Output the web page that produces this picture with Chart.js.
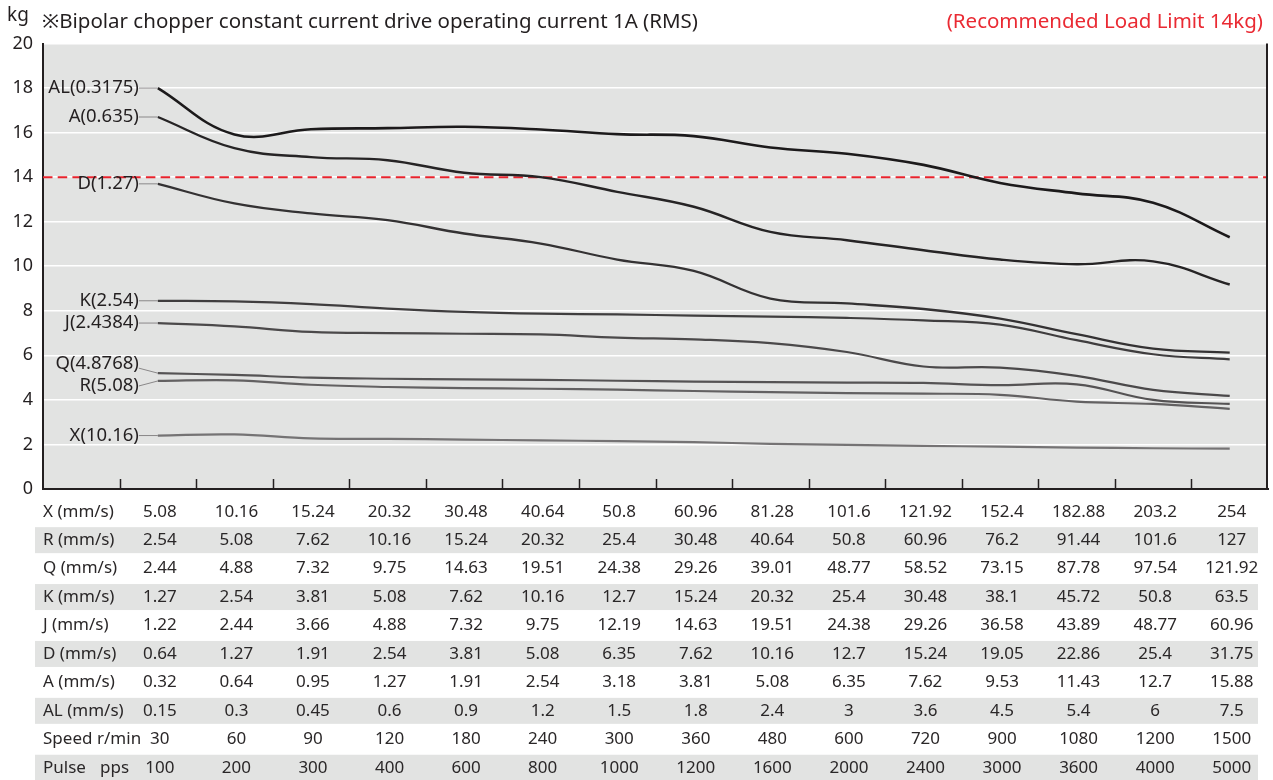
<!DOCTYPE html>
<html>
<head>
<meta charset="utf-8">
<script src="https://cdn.jsdelivr.net/npm/chart.js@4.4.1/dist/chart.umd.min.js"></script>
<style>
  html, body { margin: 0; padding: 0; background: #fff; }
  #wrap { width: 1273px; height: 780px; }
</style>
</head>
<body>
<div id="wrap"><canvas id="loadChart" width="1273" height="780"></canvas></div>
<script>
// curve values in kg, one per speed column
let AL = [18.0, 15.92, 16.15, 16.2, 16.26, 16.14, 15.93, 15.84, 15.33, 15.05, 14.55, 13.74, 13.27, 12.85, 11.3]
let A = [16.7, 15.3, 14.9, 14.76, 14.2, 14.0, 13.34, 12.67, 11.54, 11.17, 10.72, 10.3, 10.09, 10.22, 9.18]
let D = [13.7, 12.82, 12.37, 12.07, 11.47, 11.02, 10.3, 9.79, 8.55, 8.33, 8.08, 7.65, 6.95, 6.3, 6.12]
let K = [8.45, 8.42, 8.3, 8.1, 7.95, 7.87, 7.84, 7.78, 7.74, 7.68, 7.57, 7.38, 6.68, 6.05, 5.82]
let J = [7.45, 7.3, 7.05, 7.0, 6.97, 6.94, 6.8, 6.72, 6.55, 6.15, 5.5, 5.45, 5.08, 4.45, 4.18]
let Q = [5.2, 5.12, 5.0, 4.95, 4.92, 4.9, 4.86, 4.82, 4.8, 4.78, 4.76, 4.66, 4.7, 4.0, 3.82]
let R = [4.85, 4.88, 4.68, 4.58, 4.53, 4.5, 4.46, 4.4, 4.35, 4.3, 4.28, 4.23, 3.92, 3.82, 3.6]
let X = [2.4, 2.45, 2.27, 2.25, 2.22, 2.18, 2.15, 2.1, 2.03, 1.98, 1.94, 1.9, 1.86, 1.83, 1.81]

let seriesNames = ['AL(0.3175)', 'A(0.635)', 'D(1.27)', 'K(2.54)', 'J(2.4384)', 'Q(4.8768)', 'R(5.08)', 'X(10.16)']
let loadLimit = 14
let yTicks = [0, 2, 4, 6, 8, 10, 12, 14, 16, 18, 20]

// table under the chart
let rowNames = ['X (mm/s)', 'R (mm/s)', 'Q (mm/s)', 'K (mm/s)', 'J (mm/s)', 'D (mm/s)', 'A (mm/s)', 'AL (mm/s)', 'Speed', 'Pulse']
let rowUnits = ['', '', '', '', '', '', '', '', 'r/min', 'pps']
let xRow = ['5.08', '10.16', '15.24', '20.32', '30.48', '40.64', '50.8', '60.96', '81.28', '101.6', '121.92', '152.4', '182.88', '203.2', '254']
let rRow = ['2.54', '5.08', '7.62', '10.16', '15.24', '20.32', '25.4', '30.48', '40.64', '50.8', '60.96', '76.2', '91.44', '101.6', '127']
let qRow = ['2.44', '4.88', '7.32', '9.75', '14.63', '19.51', '24.38', '29.26', '39.01', '48.77', '58.52', '73.15', '87.78', '97.54', '121.92']
let kRow = ['1.27', '2.54', '3.81', '5.08', '7.62', '10.16', '12.7', '15.24', '20.32', '25.4', '30.48', '38.1', '45.72', '50.8', '63.5']
let jRow = ['1.22', '2.44', '3.66', '4.88', '7.32', '9.75', '12.19', '14.63', '19.51', '24.38', '29.26', '36.58', '43.89', '48.77', '60.96']
let dRow = ['0.64', '1.27', '1.91', '2.54', '3.81', '5.08', '6.35', '7.62', '10.16', '12.7', '15.24', '19.05', '22.86', '25.4', '31.75']
let aRow = ['0.32', '0.64', '0.95', '1.27', '1.91', '2.54', '3.18', '3.81', '5.08', '6.35', '7.62', '9.53', '11.43', '12.7', '15.88']
let alRow = ['0.15', '0.3', '0.45', '0.6', '0.9', '1.2', '1.5', '1.8', '2.4', '3', '3.6', '4.5', '5.4', '6', '7.5']
let speedRow = ['30', '60', '90', '120', '180', '240', '300', '360', '480', '600', '720', '900', '1080', '1200', '1500']
let pulseRow = ['100', '200', '300', '400', '600', '800', '1000', '1200', '1600', '2000', '2400', '3000', '3600', '4000', '5000']

let tableRows = [xRow, rRow, qRow, kRow, jRow, dRow, aRow, alRow, speedRow, pulseRow]
let allSeries = [AL, A, D, K, J, Q, R, X]

// styles
let lineColors = ['#1c1a1b', '#262425', '#343233', '#3f3d3e', '#4b494a', '#555354', '#636162', '#757374']
let lineWidths = [2.6, 2.4, 2.3, 2.2, 2.2, 2.2, 2.2, 2.2]
let labelDy = [0, 0, 0, 0, 0, -9, 5, 0]
let FONT = '"Noto Sans", "Open Sans", sans-serif'
let INK = '#231f20'
let PANEL = '#e2e3e2'

function toPoints(arr) {
  return arr.map((v, i) => ({ x: i, y: v }))
}

let datasets = allSeries.map((s, i) => ({
  label: seriesNames[i],
  data: toPoints(s),
  borderColor: lineColors[i],
  borderWidth: lineWidths[i],
  pointRadius: 0,
  tension: 0.4,
  fill: false
}))
datasets.push({
  label: 'limit',
  data: [{ x: -1.5, y: loadLimit }, { x: 14.5, y: loadLimit }],
  borderColor: '#e8232d',
  borderWidth: 2,
  borderDash: [9.5, 5.2],
  pointRadius: 0,
  tension: 0
})

let chartDecor = {
  id: 'chartDecor',
  beforeDraw(chart) {
    let { ctx, chartArea } = chart
    ctx.save()
    ctx.fillStyle = PANEL
    ctx.fillRect(chartArea.left, chartArea.top, chartArea.right - chartArea.left, chartArea.bottom - chartArea.top)
    ctx.restore()
  },
  afterDraw(chart) {
    let { ctx, chartArea } = chart
    let xs = chart.scales.x
    ctx.save()

    // right border
    ctx.strokeStyle = INK
    ctx.lineWidth = 2
    ctx.beginPath()
    ctx.moveTo(chartArea.right - 1, chartArea.top)
    ctx.lineTo(chartArea.right - 1, chartArea.bottom)
    ctx.stroke()

    // inner ticks between columns
    ctx.lineWidth = 1.5
    for (let i = 0; i < 15; i++) {
      let px = Math.round(xs.getPixelForValue(i - 0.5)) + 0.5
      ctx.beginPath()
      ctx.moveTo(px, chartArea.bottom - 10)
      ctx.lineTo(px, chartArea.bottom)
      ctx.stroke()
    }

    // series labels on the left with leader lines
    ctx.font = '18.5px ' + FONT
    ctx.textAlign = 'right'
    ctx.textBaseline = 'middle'
    for (let i = 0; i < allSeries.length; i++) {
      let pt = chart.getDatasetMeta(i).data[0]
      let ly = pt.y + labelDy[i]
      ctx.strokeStyle = '#8a8889'
      ctx.lineWidth = 1
      ctx.beginPath()
      ctx.moveTo(pt.x - 19, ly + (labelDy[i] < 0 ? 4 : 0))
      ctx.lineTo(pt.x, pt.y)
      ctx.stroke()
      ctx.fillStyle = INK
      ctx.fillText(seriesNames[i], pt.x - 19, ly)
    }

    // header texts
    ctx.textAlign = 'left'
    ctx.font = '19px ' + FONT
    ctx.fillStyle = INK
    ctx.fillText('kg', 7, 16)
    ctx.font = '20.5px ' + FONT
    ctx.fillText('\u203BBipolar chopper constant current drive operating current 1A (RMS)', 42, 22)
    ctx.textAlign = 'right'
    ctx.fillStyle = '#ea2a33'
    ctx.fillText('(Recommended Load Limit 14kg)', 1263, 22)

    // table
    let rowH = 28.45
    let firstY = chartArea.bottom + 22.7
    ctx.font = '17px ' + FONT
    for (let r = 0; r < tableRows.length; r++) {
      let cy = firstY + r * rowH
      if (r % 2 === 1) {
        ctx.fillStyle = PANEL
        ctx.fillRect(35, cy - 13, 1258 - 35, 26)
      }
      ctx.fillStyle = '#2a2728'
      ctx.textAlign = 'left'
      ctx.fillText(rowNames[r], 43, cy)
      if (rowUnits[r]) ctx.fillText(rowUnits[r], r === 8 ? 97 : 100, cy)
      ctx.textAlign = 'center'
      tableRows[r].forEach((t, i) => {
        ctx.fillText(t, xs.getPixelForValue(i) + 2, cy)
      })
    }
    ctx.restore()
  }
}

let ctx = document.getElementById('loadChart').getContext('2d')
let loadChart = new Chart(ctx, {
  type: 'line',
  data: { datasets: datasets },
  options: {
    responsive: false,
    animation: false,
    layout: { padding: { left: 0, top: 43.5, right: 5, bottom: 291 } },
    plugins: {
      legend: { display: false },
      tooltip: { enabled: false }
    },
    scales: {
      x: {
        type: 'linear',
        min: -1.5,
        max: 14.5,
        ticks: { display: false },
        grid: { display: false },
        border: { display: true, color: INK, width: 2 },
        afterFit(scale) { scale.height = 0 }
      },
      y: {
        min: 0,
        max: 20,
        afterBuildTicks(scale) { scale.ticks = yTicks.map(v => ({ value: v })) },
        ticks: { color: INK, font: { family: FONT, size: 18 }, padding: 10 },
        grid: { color: '#ffffff', lineWidth: 1.6, drawTicks: false },
        border: { display: true, color: INK, width: 2 },
        afterFit(scale) { scale.width = 43 }
      }
    }
  },
  plugins: [chartDecor]
})
</script>
</body>
</html>
